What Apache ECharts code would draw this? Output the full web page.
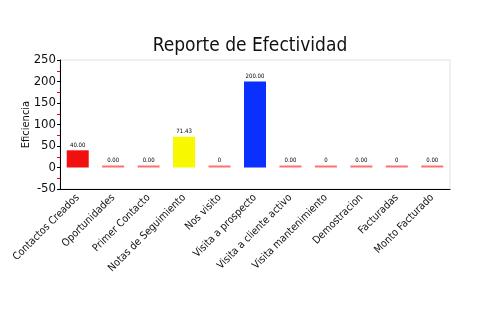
<!DOCTYPE html>
<html><head><meta charset="utf-8">
<script src="https://cdn.jsdelivr.net/npm/echarts@6/dist/echarts.min.js"></script>
<style>html,body{margin:0;padding:0;background:#fff}#c{width:500px;height:330px}</style>
</head><body><div id="c"></div>
<script>
var categories = ["Contactos Creados","Oportunidades","Primer Contacto","Notas de Seguimiento","Nos visito","Visita a prospecto","Visita a cliente activo","Visita mantenimiento","Demostracion","Facturadas","Monto Facturado"];
var values = [40, 0, 0, 71.43, 0, 200, 0, 0, 0, 0, 0];
var valueLabels = ["40.00","0.00","0.00","71.43","0","200.00","0.00","0","0.00","0","0.00"];
var barColors = ["#f01010","#ff7070","#ff7070","#f8f800","#ff7070","#0a30ff","#ff7070","#ff7070","#ff7070","#ff7070","#ff7070"];
var yTicks = {min:-50, max:250, interval:50};
var FONT = "'DejaVu Sans Condensed','Liberation Sans Narrow',sans-serif";
var chart = echarts.init(document.getElementById('c'), null, {renderer:'canvas'});
chart.setOption({
  animation:false,
  title:{text:"Reporte de Efectividad", left:'center', top:32, textStyle:{fontFamily:FONT, fontSize:19, fontWeight:'normal', color:'#111'}},
  grid:{left:60, right:50, top:60, bottom:141, show:true, borderColor:'#e0e0e0', borderWidth:1},
  xAxis:{type:'category', data:categories,
    axisLine:{onZero:false, lineStyle:{color:'#000', width:1}},
    axisTick:{alignWithLabel:true, length:4, lineStyle:{color:'#000'}},
    axisLabel:{rotate:45, fontFamily:FONT, fontSize:10.5, color:'#111', margin:7, interval:0}},
  yAxis:{type:'value', min:yTicks.min, max:yTicks.max, interval:yTicks.interval,
    name:"Eficiencia", nameLocation:'middle', nameGap:28, nameMoveOverlap:false,
    nameTextStyle:{fontFamily:FONT, fontSize:11, color:'#111'},
    axisLine:{show:true, lineStyle:{color:'#000'}},
    axisTick:{show:true, length:3, lineStyle:{color:'#000'}},
    minorTick:{show:true, splitNumber:2, length:3, lineStyle:{color:'#ff0000', width:1}},
    splitLine:{show:false},
    axisLabel:{fontFamily:FONT, fontSize:13, color:'#111', margin:4}},
  series:[{type:'bar', barWidth:22, barMinHeight:2,
    data:values.map(function(v,i){return {value:v, itemStyle:{color:barColors[i]}};}),
    label:{show:true, position:'top', distance:2, fontFamily:FONT, fontSize:6, color:'#000',
      formatter:function(p){return valueLabels[p.dataIndex];}}}]
});
</script></body></html>
